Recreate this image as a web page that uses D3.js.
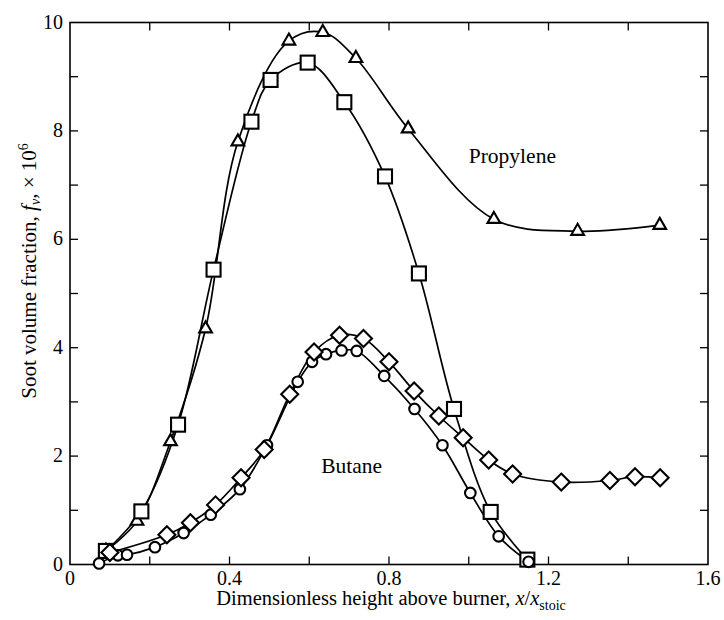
<!DOCTYPE html>
<html><head><meta charset="utf-8">
<script src="https://cdn.jsdelivr.net/npm/d3@7"></script>
<style>body{margin:0;background:#fff}svg{display:block}</style>
</head><body>
<svg id="c" width="724" height="620" font-family="'Liberation Serif', 'DejaVu Serif', serif"></svg>
<script>
// Propylene (triangles)
const triX = [0.09, 0.168, 0.252, 0.34, 0.421, 0.549, 0.634, 0.717, 0.848, 1.063, 1.273, 1.479];
const triY = [0.25, 0.80, 2.27, 4.35, 7.80, 9.66, 9.82, 9.34, 8.04, 6.37, 6.15, 6.26];
// Propylene (squares)
const sqX = [0.09, 0.179, 0.271, 0.36, 0.455, 0.503, 0.596, 0.688, 0.79, 0.875, 0.963, 1.055, 1.147];
const sqY = [0.25, 0.98, 2.58, 5.44, 8.17, 8.94, 9.26, 8.53, 7.16, 5.37, 2.87, 0.97, 0.09];
// Butane (circles)
const ciX = [0.073, 0.12, 0.143, 0.213, 0.285, 0.353, 0.426, 0.494, 0.571, 0.607, 0.642, 0.681, 0.719, 0.788, 0.864, 0.934, 1.004, 1.075, 1.15];
const ciY = [0.02, 0.17, 0.18, 0.32, 0.58, 0.92, 1.39, 2.20, 3.37, 3.74, 3.88, 3.95, 3.94, 3.48, 2.87, 2.20, 1.32, 0.52, 0.05];
// Butane (diamonds)
const diX = [0.10, 0.243, 0.302, 0.365, 0.429, 0.487, 0.551, 0.612, 0.676, 0.736, 0.80, 0.863, 0.925, 0.986, 1.05, 1.11, 1.232, 1.354, 1.417, 1.48];
const diY = [0.22, 0.55, 0.77, 1.10, 1.60, 2.12, 3.14, 3.92, 4.23, 4.17, 3.74, 3.20, 2.74, 2.34, 1.93, 1.67, 1.52, 1.55, 1.62, 1.60];

const xLabelTicks = [0, 0.4, 0.8, 1.2, 1.6];
const xMinorTicks = [0.2, 0.4, 0.6, 0.8, 1.0, 1.2, 1.4];
const yLabelTicks = [0, 2, 4, 6, 8, 10];
const yMinorTicks = [1, 2, 3, 4, 5, 6, 7, 8, 9];
const labels = [{t:"Propylene", x:1.0, y:7.4}, {t:"Butane", x:0.63, y:1.68}];

const svg = d3.select("#c");
const L = 70, R = 708, T = 22.5, B = 564.5;
const x = d3.scaleLinear().domain([0, 1.6]).range([L, R]);
const y = d3.scaleLinear().domain([0, 10]).range([B, T]);
const tl = 8;

// frame
svg.append("rect").attr("x", L).attr("y", T).attr("width", R - L).attr("height", B - T)
  .attr("fill", "none").attr("stroke", "#000").attr("stroke-width", 1.6);

// ticks
const g = svg.append("g").attr("stroke", "#000").attr("stroke-width", 1.3);
xMinorTicks.forEach(v => {
  g.append("line").attr("x1", x(v)).attr("x2", x(v)).attr("y1", B).attr("y2", B - tl);
  g.append("line").attr("x1", x(v)).attr("x2", x(v)).attr("y1", T).attr("y2", T + tl);
});
yMinorTicks.forEach(v => {
  g.append("line").attr("y1", y(v)).attr("y2", y(v)).attr("x1", L).attr("x2", L + tl);
  g.append("line").attr("y1", y(v)).attr("y2", y(v)).attr("x1", R).attr("x2", R - tl);
});

// tick labels
xLabelTicks.forEach(v => {
  svg.append("text").attr("x", x(v)).attr("y", B + 20).attr("text-anchor", "middle")
    .attr("font-size", 20).text(v === 0 ? "0" : d3.format(".1f")(v));
});
yLabelTicks.forEach(v => {
  svg.append("text").attr("x", L - 7).attr("y", y(v) + 6).attr("text-anchor", "end")
    .attr("font-size", 20).text(String(v));
});

// axis titles
const xt = svg.append("text").attr("x", 391).attr("y", 605).attr("text-anchor", "middle").attr("font-size", 20.5);
xt.append("tspan").text("Dimensionless height above burner, ");
xt.append("tspan").attr("font-style", "italic").text("x");
xt.append("tspan").text("/");
xt.append("tspan").attr("font-style", "italic").text("x");
xt.append("tspan").attr("font-size", 14).attr("dy", 5).text("stoic");

const yt = svg.append("text").attr("transform", "translate(36,271) rotate(-90)").attr("text-anchor", "middle").attr("font-size", 21);
yt.append("tspan").text("Soot volume fraction, ");
yt.append("tspan").attr("font-style", "italic").text("f");
yt.append("tspan").attr("font-style", "italic").attr("font-size", 14).attr("dy", 4).text("v");
yt.append("tspan").attr("dy", -4).text(", \u00d7 10");
yt.append("tspan").attr("font-size", 14).attr("dy", -8).text("6");

// curves
const line = d3.line().x(d => x(d[0])).y(d => y(d[1])).curve(d3.curveCatmullRom.alpha(0.5));
const zip = (a, b) => a.map((v, i) => [v, b[i]]);
const series = [
  {d: zip(triX, triY), m: "tri"},
  {d: zip(sqX, sqY), m: "sq"},
  {d: zip(ciX, ciY), m: "ci"},
  {d: zip(diX, diY), m: "di"}
];
series.forEach(s => {
  svg.append("path").attr("d", line(s.d)).attr("fill", "none").attr("stroke", "#000").attr("stroke-width", 1.7);
});

// markers
const mk = svg.append("g").attr("fill", "#fff").attr("stroke", "#000").attr("stroke-width", 2.1);
series.forEach(s => {
  s.d.forEach(p => {
    const cx = x(p[0]), cy = y(p[1]);
    if (s.m === "tri") {
      mk.append("path").attr("d", d3.symbol(d3.symbolTriangle, 70)()).attr("transform", `translate(${cx},${cy})`);
    } else if (s.m === "sq") {
      mk.append("rect").attr("x", cx - 7).attr("y", cy - 7).attr("width", 14).attr("height", 14);
    } else if (s.m === "ci") {
      mk.append("circle").attr("cx", cx).attr("cy", cy).attr("r", 5.3);
    } else {
      mk.append("path").attr("d", "M0,-8.5L8.5,0L0,8.5L-8.5,0Z").attr("transform", `translate(${cx},${cy})`);
    }
  });
});

// labels
labels.forEach(l => {
  svg.append("text").attr("x", x(l.x)).attr("y", y(l.y)).attr("font-size", 21.5).text(l.t);
});
</script>
</body></html>
